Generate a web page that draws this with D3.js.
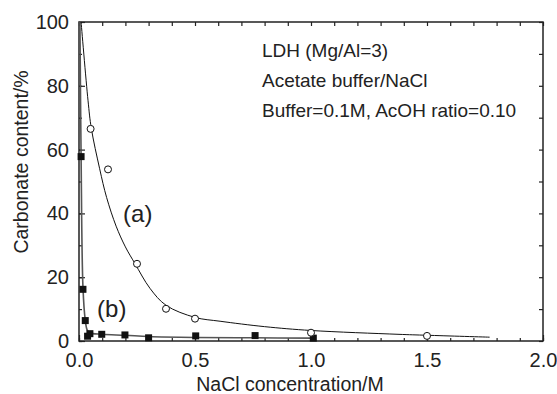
<!DOCTYPE html>
<html>
<head>
<meta charset="utf-8">
<script src="https://cdn.jsdelivr.net/npm/d3@7"></script>
<style>
  body { margin: 0; background: #fff; }
  text { font-family: "Liberation Sans", Arial, sans-serif; fill: #222; }
</style>
</head>
<body>
<div id="chart"></div>
<script>
const width = 557;
const height = 394;

// measured points, series (a) open circles
const aX = [0.05, 0.125, 0.25, 0.375, 0.5, 1.0, 1.5];
const aY = [66.5, 53.8, 24.2, 10.1, 7.0, 2.6, 1.6];
// fitted curve (a)
const aFitX = [0.009, 0.039, 0.053, 0.089, 0.119, 0.16, 0.2, 0.241, 0.306, 0.375, 0.5, 0.608, 0.8, 1.0, 1.375, 1.5, 1.77];
const aFitY = [100, 75.3, 66.7, 54, 45, 36, 29.5, 24.3, 16.5, 11.2, 7.4, 6.2, 4.5, 3.3, 2.1, 1.8, 1.2];

// series (b) filled squares
const bX = [0.009, 0.017, 0.027, 0.037, 0.047, 0.098, 0.198, 0.3, 0.503, 0.759, 1.01];
const bY = [57.8, 16.2, 6.4, 1.5, 2.3, 2.1, 1.9, 1.0, 1.6, 1.7, 0.9];
const bFitX = [0.004, 0.009, 0.017, 0.027, 0.035, 0.045, 0.1, 0.2, 0.3, 0.5, 0.75, 1.01];
const bFitY = [100, 58, 17, 6.5, 3.5, 2.6, 2.1, 1.8, 1.4, 1.1, 1.0, 0.9];

const xTicks = [0, 0.5, 1.0, 1.5, 2.0];
const yTicks = [0, 20, 40, 60, 80, 100];

const margin = { top: 22, right: 14, bottom: 53, left: 79 };
const iw = width - margin.left - margin.right;
const ih = height - margin.top - margin.bottom;

const svg = d3.select("#chart").append("svg")
  .attr("width", width)
  .attr("height", height);

const g = svg.append("g")
  .attr("transform", `translate(${margin.left},${margin.top})`);

const x = d3.scaleLinear().domain([0, 2]).range([0, iw]);
const y = d3.scaleLinear().domain([0, 100]).range([ih, 0]);

// axes, ticks pointing inward
const minorX = d3.range(0, 2.0001, 0.1);
const minorY = d3.range(0, 100.001, 10);

function styleAxis(sel) {
  sel.select(".domain").remove();
  sel.selectAll("line").attr("stroke", "#222").attr("stroke-width", 1.2);
  sel.selectAll("text").style("font-size", "20px");
}

g.append("g").attr("transform", `translate(0,${ih})`)
  .call(d3.axisBottom(x).tickValues(minorX).tickSize(-3).tickFormat(""))
  .call(styleAxis);
g.append("g").attr("transform", `translate(0,${ih})`)
  .call(d3.axisBottom(x).tickValues(xTicks).tickSize(-6).tickPadding(12).tickFormat(d3.format(".1f")))
  .call(styleAxis);
g.append("g")
  .call(d3.axisTop(x).tickValues(minorX).tickSize(-4).tickFormat(""))
  .call(styleAxis);
g.append("g")
  .call(d3.axisLeft(y).tickValues(minorY).tickSize(-3).tickFormat(""))
  .call(styleAxis);
g.append("g")
  .call(d3.axisLeft(y).tickValues(yTicks).tickSize(-6).tickPadding(10))
  .call(styleAxis);
g.append("g").attr("transform", `translate(${iw},0)`)
  .call(d3.axisRight(y).tickValues(minorY).tickSize(-4).tickFormat(""))
  .call(styleAxis);

// frame
g.append("rect")
  .attr("width", iw).attr("height", ih)
  .attr("fill", "none").attr("stroke", "#222").attr("stroke-width", 1.5);

// fit lines
const line = d3.line()
  .x(d => x(d[0]))
  .y(d => y(d[1]))
  .curve(d3.curveCatmullRom.alpha(0.5));

g.append("path")
  .datum(bFitX.map((v, i) => [v, bFitY[i]]))
  .attr("d", line)
  .attr("fill", "none").attr("stroke", "#555").attr("stroke-width", 1.6);

g.append("path")
  .datum(aFitX.map((v, i) => [v, aFitY[i]]))
  .attr("d", line)
  .attr("fill", "none").attr("stroke", "#111").attr("stroke-width", 1);

// markers
g.selectAll(".sq")
  .data(bX.map((v, i) => [v, bY[i]]))
  .enter().append("rect")
  .attr("class", "sq")
  .attr("x", d => x(d[0]) - 3.5)
  .attr("y", d => y(d[1]) - 3.5)
  .attr("width", 7).attr("height", 7)
  .attr("fill", "#111");

g.selectAll(".circ")
  .data(aX.map((v, i) => [v, aY[i]]))
  .enter().append("circle")
  .attr("class", "circ")
  .attr("cx", d => x(d[0]))
  .attr("cy", d => y(d[1]))
  .attr("r", 3.5)
  .attr("fill", "#fff").attr("stroke", "#111").attr("stroke-width", 1);

// curve labels
g.append("text").attr("x", x(0.19)).attr("y", y(40)).attr("dy", "0.35em")
  .style("font-size", "24px").text("(a)");
g.append("text").attr("x", x(0.078)).attr("y", y(10.2)).attr("dy", "0.35em")
  .style("font-size", "24px").text("(b)");

// annotation
const notes = ["LDH (Mg/Al=3)", "Acetate buffer/NaCl", "Buffer=0.1M, AcOH ratio=0.10"];
g.selectAll(".note")
  .data(notes)
  .enter().append("text")
  .attr("class", "note")
  .attr("x", 183)
  .attr("y", (d, i) => 35 + i * 30)
  .style("font-size", "19px")
  .text(d => d);

// axis titles
svg.append("text")
  .attr("x", 290)
  .attr("y", 391)
  .attr("text-anchor", "middle")
  .style("font-size", "19.5px")
  .text("NaCl concentration/M");

svg.append("text")
  .attr("transform", "translate(28,162) rotate(-90)")
  .attr("text-anchor", "middle")
  .style("font-size", "19.5px")
  .text("Carbonate content/%");
</script>
</body>
</html>
